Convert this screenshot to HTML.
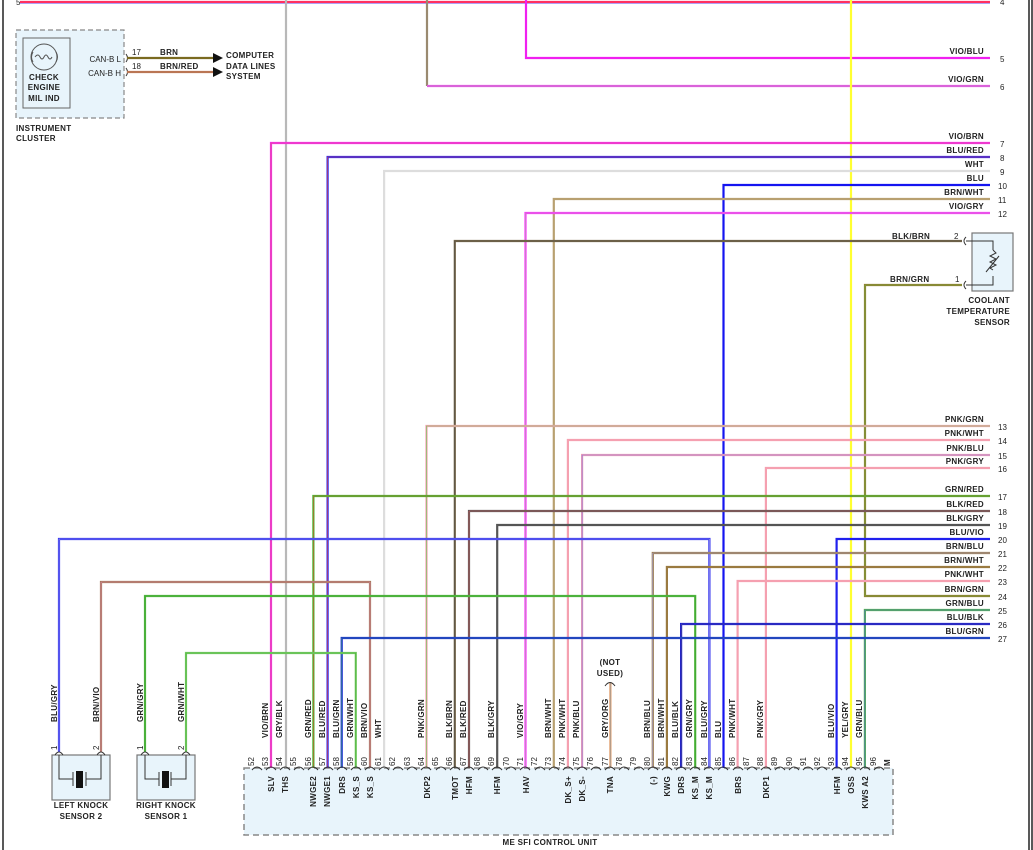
<!DOCTYPE html>
<html><head><meta charset="utf-8"><style>
html,body{margin:0;padding:0;background:#fff;}
svg{display:block;font-family:"Liberation Sans",sans-serif;}
text{font-size:8px;fill:#222;}
.b{font-weight:bold;letter-spacing:0.3px;}
.w{fill:none;stroke-width:2.2;}
.t{fill:none;stroke-width:0.6;}
</style></head><body>
<svg width="1033" height="850" viewBox="0 0 1033 850" xmlns="http://www.w3.org/2000/svg">
<rect x="0" y="0" width="1033" height="850" fill="#fff"/>
<line x1="3" y1="0" x2="3" y2="850" stroke="#222" stroke-width="1.5"/>
<line x1="1029" y1="0" x2="1029" y2="850" stroke="#222" stroke-width="1.5"/>
<line x1="1032" y1="0" x2="1032" y2="850" stroke="#222" stroke-width="1.5"/>

<rect x="244" y="768" width="649" height="67" fill="#e8f4fb" stroke="#888" stroke-width="1.5" stroke-dasharray="6,4"/>
<rect x="52" y="755" width="58" height="45" fill="#e8f4fb" stroke="#777" stroke-width="1.2"/>
<rect x="137" y="755" width="58" height="45" fill="#e8f4fb" stroke="#777" stroke-width="1.2"/>
<g stroke="#333" stroke-width="1" fill="none">
<path d="M59 755 V779 H73 M73 772 V786 M86 772 V786 M86 779 H101 V755"/>
<path d="M145 755 V779 H159 M159 772 V786 M171 772 V786 M171 779 H186 V755"/>
</g>
<rect x="76" y="771" width="7" height="17" fill="#111"/>
<rect x="162" y="771" width="7" height="17" fill="#111"/>
<rect x="972" y="233" width="41" height="58" fill="#e8f4fb" stroke="#777" stroke-width="1.2"/>
<path d="M966 241 H993 V250 M993 276 V285 H966" stroke="#333" fill="none"/>
<path d="M993 250 l3 3 l-6 3 l6 3 l-6 3 l6 3 l-6 3 l3 2" stroke="#333" fill="none"/>
<line x1="986" y1="272" x2="999" y2="256" stroke="#333"/>
<path d="M966 237 q-4 4 0 8 M966 281 q-4 4 0 8" stroke="#333" fill="none"/>
<rect x="16" y="30" width="108" height="88" fill="#e8f4fb" stroke="#888" stroke-width="1.2" stroke-dasharray="5,3"/>
<rect x="23" y="38" width="47" height="70" fill="none" stroke="#666" stroke-width="1"/>
<circle cx="44" cy="57" r="13" fill="none" stroke="#555"/>
<path d="M35 57 q3 -4 5 0 q2 4 4 0 q2 -4 4 0 q2 4 4 0" stroke="#555" fill="none"/>
<path d="M33 52 q-3 5 0 10 M56 52 q3 5 0 10" stroke="#555" fill="none"/>
<text x="44" y="80" class="b" text-anchor="middle">CHECK</text>
<text x="44" y="90" class="b" text-anchor="middle">ENGINE</text>
<text x="44" y="101" class="b" text-anchor="middle">MIL IND</text>
<text x="121" y="62" text-anchor="end">CAN-B L</text>
<text x="121" y="76" text-anchor="end">CAN-B H</text>
<path d="M126 54 q3 4 0 8 M126 68 q3 4 0 8" stroke="#333" fill="none"/>
<line x1="127" y1="58" x2="214" y2="58" stroke="#7a6a20" stroke-width="2.2"/>
<line x1="127" y1="72" x2="214" y2="72" stroke="#d08060" stroke-width="2.2"/>
<line x1="127" y1="72" x2="214" y2="72" stroke="#7a5a30" stroke-width="0.6"/>
<path d="M213 53 L223 58 L213 63 Z M213 67 L223 72 L213 77 Z" fill="#111"/>
<text x="132" y="55">17</text><text x="160" y="55" class="b">BRN</text>
<text x="132" y="69">18</text><text x="160" y="69" class="b">BRN/RED</text>
<text x="226" y="58" class="b">COMPUTER</text>
<text x="226" y="69" class="b">DATA LINES</text>
<text x="226" y="79" class="b">SYSTEM</text>
<text x="16" y="131" class="b">INSTRUMENT</text>
<text x="16" y="141" class="b">CLUSTER</text>
<text x="16" y="5">5</text>

<g>
<path class="w" stroke="#ff3060" d="M20 2 H990"/><path class="t" stroke="#6060ff" d="M20 3.5 H990"/>
<path class="w" stroke="#f020f0" d="M526 0 V58 H990"/>
<path class="w" stroke="#9a8a70" d="M427 0 V86"/>
<path class="w" stroke="#f050f0" d="M427 86 H990"/><path class="t" stroke="#999" d="M427 86 H990"/>
<path class="w" stroke="#b8b8b8" d="M286 0 V768"/>
<path class="w" stroke="#ffff30" d="M851 0 V768"/>
<path class="w" stroke="#ff20ff" d="M271 768 V143 H990"/><path class="t" stroke="#c08040" d="M271 768 V143 H990"/>
<path class="w" stroke="#2a2af0" d="M327.6 768 V157 H990"/><path class="t" stroke="#e04040" d="M327.6 768 V157 H990"/>
<path class="w" stroke="#dddddd" d="M384.1 768 V171 H990"/>
<path class="w" stroke="#1515f0" d="M723.5 768 V185 H990"/>
<path class="w" stroke="#b8a070" d="M553.8 768 V199 H990"/>
<path class="w" stroke="#ff33ff" d="M525.5 768 V213 H990"/><path class="t" stroke="#aaa" d="M525.5 768 V213 H990"/>
<path class="w" stroke="#7a6a4a" d="M454.8 768 V241 H962"/><path class="t" stroke="#444" d="M454.8 768 V241 H962"/>
<path class="w" stroke="#9a7a30" d="M962 285 H865 V596 H990"/><path class="t" stroke="#55bb44" d="M962 285 H865 V596 H990"/>
<path class="w" stroke="#f5a0b0" d="M426.5 768 V426 H990"/><path class="t" stroke="#66cc55" d="M426.5 768 V426 H990"/>
<path class="w" stroke="#f5a0b0" d="M567.9 768 V440 H990"/>
<path class="w" stroke="#f5a0b0" d="M582.1 768 V455 H990"/><path class="t" stroke="#7070ee" d="M582.1 768 V455 H990"/>
<path class="w" stroke="#f5a0b0" d="M765.9 768 V468 H990"/>
<path class="w" stroke="#44bb33" d="M313.4 768 V496 H990"/><path class="t" stroke="#d05030" d="M313.4 768 V496 H990"/>
<path class="w" stroke="#555" d="M469 768 V511 H990"/><path class="t" stroke="#ee6060" d="M469 768 V511 H990"/>
<path class="w" stroke="#555" d="M497.2 768 V525 H990"/>
<path class="w" stroke="#2020ee" d="M836.6 768 V539 H990"/>
<path class="w" stroke="#3030ee" d="M709.4 768 V539 H59 V752"/><path class="t" stroke="#aaaaee" d="M709.4 768 V539 H59 V752"/>
<path class="w" stroke="#9a7a40" d="M652.8 768 V553 H990"/><path class="t" stroke="#aaaaff" d="M652.8 768 V553 H990"/>
<path class="w" stroke="#9a7a40" d="M666.9 768 V567 H990"/>
<path class="w" stroke="#f5a0b0" d="M737.6 768 V581 H990"/>
<path class="w" stroke="#a07850" d="M370 768 V582 H101 V752"/><path class="t" stroke="#ee88cc" d="M370 768 V582 H101 V752"/>
<path class="w" stroke="#55bb44" d="M695.2 768 V596 H145 V752"/><path class="t" stroke="#339922" d="M695.2 768 V596 H145 V752"/>
<path class="w" stroke="#55bb44" d="M864.9 768 V610 H990"/><path class="t" stroke="#5050ee" d="M864.9 768 V610 H990"/>
<path class="w" stroke="#1515e0" d="M681.1 768 V624 H990"/><path class="t" stroke="#666" d="M681.1 768 V624 H990"/>
<path class="w" stroke="#1a30d0" d="M341.7 768 V638 H990"/><path class="t" stroke="#3a8a8a" d="M341.7 768 V638 H990"/>
<path class="w" stroke="#77cc66" d="M355.8 768 V653 H186 V752"/><path class="t" stroke="#44aa33" d="M355.8 768 V653 H186 V752"/>
<path class="w" stroke="#e0a070" d="M610.4 768 V682"/><path class="t" stroke="#999" d="M610.4 768 V682"/>
</g>
<path d="M605 686 q5 -7 10 0" stroke="#333" fill="none"/>
<text x="610" y="665" class="b" text-anchor="middle">(NOT</text>
<text x="610" y="676" class="b" text-anchor="middle">USED)</text>

<g stroke="#333" fill="none">
<path d="M55 755 q4 -6 8 0 M97 755 q4 -6 8 0 M141 755 q4 -6 8 0 M182 755 q4 -6 8 0"/>
</g>
<text transform="translate(57,750) rotate(-90)">1</text>
<text transform="translate(99,750) rotate(-90)">2</text>
<text transform="translate(143,750) rotate(-90)">1</text>
<text transform="translate(184,750) rotate(-90)">2</text>
<text transform="translate(57,722) rotate(-90)" class="b">BLU/GRY</text>
<text transform="translate(99,722) rotate(-90)" class="b">BRN/VIO</text>
<text transform="translate(143,722) rotate(-90)" class="b">GRN/GRY</text>
<text transform="translate(184,722) rotate(-90)" class="b">GRN/WHT</text>
<text x="81" y="808" class="b" text-anchor="middle">LEFT KNOCK</text>
<text x="81" y="819" class="b" text-anchor="middle">SENSOR 2</text>
<text x="166" y="808" class="b" text-anchor="middle">RIGHT KNOCK</text>
<text x="166" y="819" class="b" text-anchor="middle">SENSOR 1</text>
<text x="1010" y="303" class="b" text-anchor="end">COOLANT</text>
<text x="1010" y="314" class="b" text-anchor="end">TEMPERATURE</text>
<text x="1010" y="325" class="b" text-anchor="end">SENSOR</text>
<text x="892" y="239" class="b">BLK/BRN</text><text x="954" y="239">2</text>
<text x="890" y="282" class="b">BRN/GRN</text><text x="955" y="282">1</text>
<text x="550" y="845" class="b" text-anchor="middle">ME SFI CONTROL UNIT</text>

<g class="b" text-anchor="end">
<text x="984" y="54">VIO/BLU</text><text x="984" y="82">VIO/GRN</text>
<text x="984" y="139">VIO/BRN</text><text x="984" y="153">BLU/RED</text><text x="984" y="167">WHT</text>
<text x="984" y="181">BLU</text><text x="984" y="195">BRN/WHT</text><text x="984" y="209">VIO/GRY</text>
<text x="984" y="422">PNK/GRN</text><text x="984" y="436">PNK/WHT</text><text x="984" y="451">PNK/BLU</text><text x="984" y="464">PNK/GRY</text>
<text x="984" y="492">GRN/RED</text><text x="984" y="507">BLK/RED</text><text x="984" y="521">BLK/GRY</text><text x="984" y="535">BLU/VIO</text>
<text x="984" y="549">BRN/BLU</text><text x="984" y="563">BRN/WHT</text><text x="984" y="577">PNK/WHT</text><text x="984" y="592">BRN/GRN</text>
<text x="984" y="606">GRN/BLU</text><text x="984" y="620">BLU/BLK</text><text x="984" y="634">BLU/GRN</text>
</g>
<g>
<text x="1000" y="5">4</text><text x="1000" y="62">5</text><text x="1000" y="90">6</text>
<text x="1000" y="147">7</text><text x="1000" y="161">8</text><text x="1000" y="175">9</text>
<text x="998" y="189">10</text><text x="998" y="203">11</text><text x="998" y="217">12</text>
<text x="998" y="430">13</text><text x="998" y="444">14</text><text x="998" y="459">15</text><text x="998" y="472">16</text>
<text x="998" y="500">17</text><text x="998" y="515">18</text><text x="998" y="529">19</text><text x="998" y="543">20</text>
<text x="998" y="557">21</text><text x="998" y="571">22</text><text x="998" y="585">23</text><text x="998" y="600">24</text>
<text x="998" y="614">25</text><text x="998" y="628">26</text><text x="998" y="642">27</text>
</g>

<path stroke="#333" fill="none" d="M252 770 q5 -6 10 0 M266 770 q5 -6 10 0 M280 770 q5 -6 10 0 M294 770 q5 -6 10 0 M308 770 q5 -6 10 0 M323 770 q5 -6 10 0 M337 770 q5 -6 10 0 M351 770 q5 -6 10 0 M365 770 q5 -6 10 0 M379 770 q5 -6 10 0 M393 770 q5 -6 10 0 M407 770 q5 -6 10 0 M421 770 q5 -6 10 0 M436 770 q5 -6 10 0 M450 770 q5 -6 10 0 M464 770 q5 -6 10 0 M478 770 q5 -6 10 0 M492 770 q5 -6 10 0 M506 770 q5 -6 10 0 M520 770 q5 -6 10 0 M535 770 q5 -6 10 0 M549 770 q5 -6 10 0 M563 770 q5 -6 10 0 M577 770 q5 -6 10 0 M591 770 q5 -6 10 0 M605 770 q5 -6 10 0 M619 770 q5 -6 10 0 M634 770 q5 -6 10 0 M648 770 q5 -6 10 0 M662 770 q5 -6 10 0 M676 770 q5 -6 10 0 M690 770 q5 -6 10 0 M704 770 q5 -6 10 0 M718 770 q5 -6 10 0 M733 770 q5 -6 10 0 M747 770 q5 -6 10 0 M761 770 q5 -6 10 0 M775 770 q5 -6 10 0 M789 770 q5 -6 10 0 M803 770 q5 -6 10 0 M817 770 q5 -6 10 0 M832 770 q5 -6 10 0 M846 770 q5 -6 10 0 M860 770 q5 -6 10 0 M874 770 q5 -6 10 0"/>

<g font-size="7.5">
<text transform="translate(254,766) rotate(-90)">52</text><text transform="translate(268,766) rotate(-90)">53</text><text transform="translate(282,766) rotate(-90)">54</text><text transform="translate(296,766) rotate(-90)">55</text><text transform="translate(311,766) rotate(-90)">56</text><text transform="translate(325,766) rotate(-90)">57</text><text transform="translate(339,766) rotate(-90)">58</text><text transform="translate(353,766) rotate(-90)">59</text><text transform="translate(367,766) rotate(-90)">60</text><text transform="translate(381,766) rotate(-90)">61</text><text transform="translate(395,766) rotate(-90)">62</text><text transform="translate(410,766) rotate(-90)">63</text><text transform="translate(424,766) rotate(-90)">64</text><text transform="translate(438,766) rotate(-90)">65</text><text transform="translate(452,766) rotate(-90)">66</text><text transform="translate(466,766) rotate(-90)">67</text><text transform="translate(480,766) rotate(-90)">68</text><text transform="translate(494,766) rotate(-90)">69</text><text transform="translate(509,766) rotate(-90)">70</text><text transform="translate(523,766) rotate(-90)">71</text><text transform="translate(537,766) rotate(-90)">72</text><text transform="translate(551,766) rotate(-90)">73</text><text transform="translate(565,766) rotate(-90)">74</text><text transform="translate(579,766) rotate(-90)">75</text><text transform="translate(593,766) rotate(-90)">76</text><text transform="translate(608,766) rotate(-90)">77</text><text transform="translate(622,766) rotate(-90)">78</text><text transform="translate(636,766) rotate(-90)">79</text><text transform="translate(650,766) rotate(-90)">80</text><text transform="translate(664,766) rotate(-90)">81</text><text transform="translate(678,766) rotate(-90)">82</text><text transform="translate(692,766) rotate(-90)">83</text><text transform="translate(707,766) rotate(-90)">84</text><text transform="translate(721,766) rotate(-90)">85</text><text transform="translate(735,766) rotate(-90)">86</text><text transform="translate(749,766) rotate(-90)">87</text><text transform="translate(763,766) rotate(-90)">88</text><text transform="translate(777,766) rotate(-90)">89</text><text transform="translate(792,766) rotate(-90)">90</text><text transform="translate(806,766) rotate(-90)">91</text><text transform="translate(820,766) rotate(-90)">92</text><text transform="translate(834,766) rotate(-90)">93</text><text transform="translate(848,766) rotate(-90)">94</text><text transform="translate(862,766) rotate(-90)">95</text><text transform="translate(876,766) rotate(-90)">96</text><text transform="translate(890,766) rotate(-90)" class="b">M</text>
</g>

<g class="b">
<text transform="translate(268,738) rotate(-90)">VIO/BRN</text>
<text transform="translate(282,738) rotate(-90)">GRY/BLK</text>
<text transform="translate(311,738) rotate(-90)">GRN/RED</text>
<text transform="translate(325,738) rotate(-90)">BLU/RED</text>
<text transform="translate(339,738) rotate(-90)">BLU/GRN</text>
<text transform="translate(353,738) rotate(-90)">GRN/WHT</text>
<text transform="translate(367,738) rotate(-90)">BRN/VIO</text>
<text transform="translate(381,738) rotate(-90)">WHT</text>
<text transform="translate(424,738) rotate(-90)">PNK/GRN</text>
<text transform="translate(452,738) rotate(-90)">BLK/BRN</text>
<text transform="translate(466,738) rotate(-90)">BLK/RED</text>
<text transform="translate(494,738) rotate(-90)">BLK/GRY</text>
<text transform="translate(523,738) rotate(-90)">VIO/GRY</text>
<text transform="translate(551,738) rotate(-90)">BRN/WHT</text>
<text transform="translate(565,738) rotate(-90)">PNK/WHT</text>
<text transform="translate(579,738) rotate(-90)">PNK/BLU</text>
<text transform="translate(608,738) rotate(-90)">GRY/ORG</text>
<text transform="translate(650,738) rotate(-90)">BRN/BLU</text>
<text transform="translate(664,738) rotate(-90)">BRN/WHT</text>
<text transform="translate(678,738) rotate(-90)">BLU/BLK</text>
<text transform="translate(692,738) rotate(-90)">GRN/GRY</text>
<text transform="translate(707,738) rotate(-90)">BLU/GRY</text>
<text transform="translate(721,738) rotate(-90)">BLU</text>
<text transform="translate(735,738) rotate(-90)">PNK/WHT</text>
<text transform="translate(763,738) rotate(-90)">PNK/GRY</text>
<text transform="translate(834,738) rotate(-90)">BLU/VIO</text>
<text transform="translate(848,738) rotate(-90)">YEL/GRY</text>
<text transform="translate(862,738) rotate(-90)">GRN/BLU</text>
</g>

<g class="b" text-anchor="end">
<text transform="translate(274,776) rotate(-90)">SLV</text>
<text transform="translate(288,776) rotate(-90)">THS</text>
<text transform="translate(316,776) rotate(-90)">NWGE2</text>
<text transform="translate(330,776) rotate(-90)">NWGE1</text>
<text transform="translate(345,776) rotate(-90)">DRS</text>
<text transform="translate(359,776) rotate(-90)">KS_S</text>
<text transform="translate(373,776) rotate(-90)">KS_S</text>
<text transform="translate(430,776) rotate(-90)">DKP2</text>
<text transform="translate(458,776) rotate(-90)">TMOT</text>
<text transform="translate(472,776) rotate(-90)">HFM</text>
<text transform="translate(500,776) rotate(-90)">HFM</text>
<text transform="translate(529,776) rotate(-90)">HAV</text>
<text transform="translate(571,776) rotate(-90)">DK_S+</text>
<text transform="translate(585,776) rotate(-90)">DK_S-</text>
<text transform="translate(613,776) rotate(-90)">TNA</text>
<text transform="translate(656,776) rotate(-90)">(-)</text>
<text transform="translate(670,776) rotate(-90)">KWG</text>
<text transform="translate(684,776) rotate(-90)">DRS</text>
<text transform="translate(698,776) rotate(-90)">KS_M</text>
<text transform="translate(712,776) rotate(-90)">KS_M</text>
<text transform="translate(741,776) rotate(-90)">BRS</text>
<text transform="translate(769,776) rotate(-90)">DKP1</text>
<text transform="translate(840,776) rotate(-90)">HFM</text>
<text transform="translate(854,776) rotate(-90)">OSS</text>
<text transform="translate(868,776) rotate(-90)">KWS A2</text>
</g>
</svg>
</body></html>
